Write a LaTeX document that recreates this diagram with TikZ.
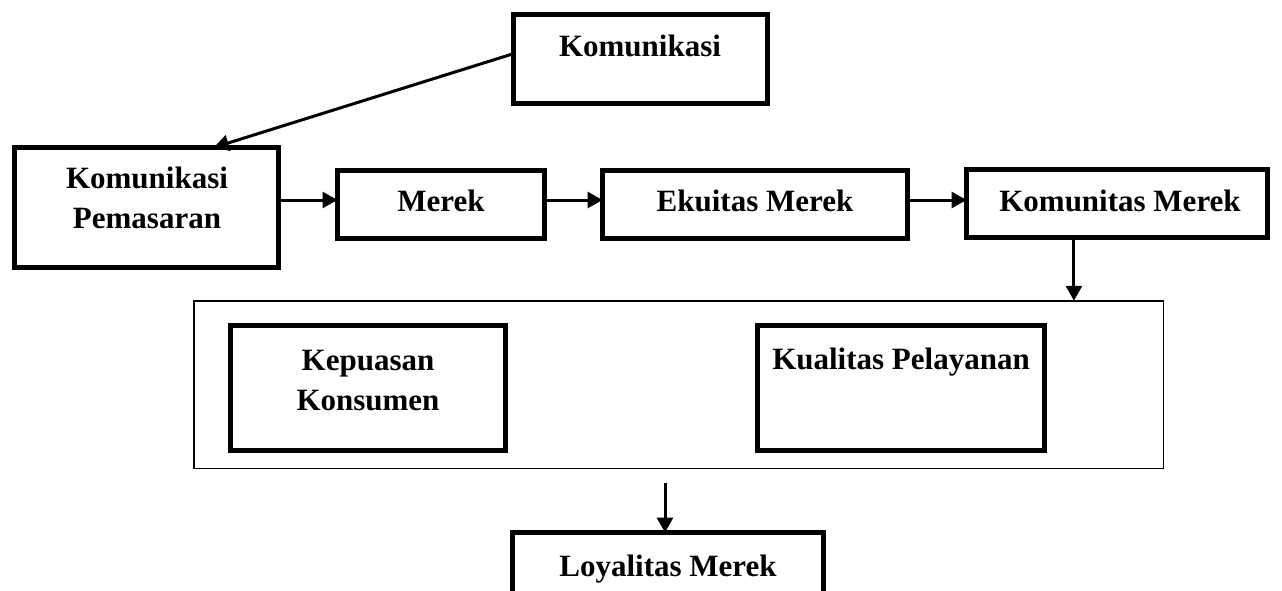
\documentclass[tikz,border=0pt]{standalone}
\usepackage{fontspec}
\setmainfont{Liberation Serif}
\usetikzlibrary{arrows.meta,calc}
\begin{document}
\begin{tikzpicture}[x=1pt,y=-1pt,
  thickbox/.style={draw,line width=5pt,inner sep=0pt,outer sep=0pt,rectangle},
  thinbox/.style={draw,line width=1.5pt,inner sep=0pt,outer sep=0pt,rectangle},
  lbl/.style={font=\fontsize{31}{40}\selectfont\bfseries,anchor=base,inner sep=0pt,align=center},
  arr/.style={line width=3pt,-{Triangle[length=15pt,width=16pt]}}]
\useasboundingbox (0,0) rectangle (1282,590);
\clip (0,0) rectangle (1282,590);
% boxes
\node[thickbox,minimum width=254pt,minimum height=89pt] (kom) at (640.5,59) {};
\node[thickbox,minimum width=264pt,minimum height=120pt] (kp) at (146.5,207.5) {};
\node[thickbox,minimum width=207pt,minimum height=68pt] (mer) at (441,204.5) {};
\node[thickbox,minimum width=305pt,minimum height=68pt] (ek) at (755,204.5) {};
\node[thickbox,minimum width=301pt,minimum height=68pt] (km) at (1117,203.5) {};
\node[thinbox,minimum width=969.5pt,minimum height=167.5pt] (outer) at (678.5,384.5) {};
\node[thickbox,minimum width=275pt,minimum height=125pt] (kep) at (368,388) {};
\node[thickbox,minimum width=287pt,minimum height=125pt] (kual) at (901,388) {};
\node[thickbox,minimum width=311pt,minimum height=70pt] (loy) at (668,567.5) {};
% labels
\node[lbl] (tkom) at (640,56) {Komunikasi};
\node[lbl] (tkp) at (147,228) {Komunikasi\\Pemasaran};
\node[lbl] (tmer) at (441,211) {Merek};
\node[lbl] (tek) at (755,211) {Ekuitas Merek};
\node[lbl] (tkm) at (1120,211) {Komunitas Merek};
\node[lbl] (tkep) at (368,410) {Kepuasan\\Konsumen};
\node[lbl] (tkual) at (901,369) {Kualitas Pelayanan};
\node[lbl] (tloy) at (668,576) {Loyalitas Merek};
% connectors
\coordinate (komout) at ($(kom.north west)!0.44!(kom.south west)$);
\coordinate (kpin) at ($(kp.north west)!0.755!(kp.north east)$);
\draw[arr] (komout) -- (kpin);
\draw[arr] (kp.east |- 0,200) -- (mer.west |- 0,200);
\draw[arr] (mer.east |- 0,200) -- (ek.west |- 0,200);
\draw[arr] (ek.east |- 0,200) -- (km.west |- 0,200);
\coordinate (kmout) at ($(km.south west)!0.357!(km.south east)$);
\draw[arr] (kmout) -- (kmout |- outer.north);
\coordinate (lowstart) at (665,483);
\draw[arr] (lowstart) -- (lowstart |- loy.north);
\end{tikzpicture}
\end{document}
